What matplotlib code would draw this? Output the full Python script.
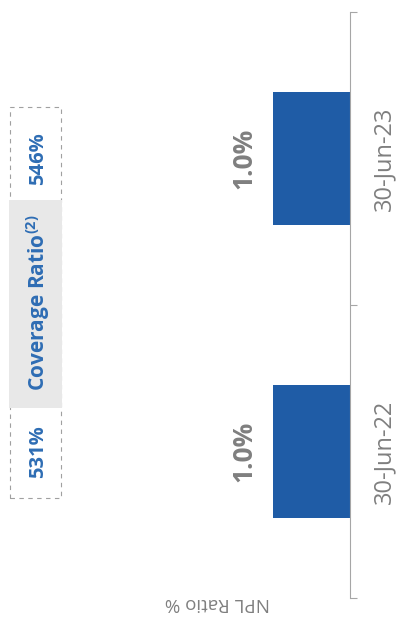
import matplotlib.pyplot as plt
from matplotlib.patches import Rectangle

plt.rcParams['font.family'] = ['Open Sans', 'DejaVu Sans']
plt.rcParams['mathtext.fontset'] = 'custom'
plt.rcParams['mathtext.rm'] = 'Open Sans:bold'

# NPL ratio per reporting date
periods = ['30-Jun-22', '30-Jun-23']
npl_ratio = [1.0, 1.0]
coverage = [531, 546]

W, H = 398, 619
fig = plt.figure(figsize=(W / 100, H / 100), dpi=100)

def fx(px):
    return px / W

def fy(py):
    return 1 - py / H

ax = fig.add_axes([fx(230), fy(598), fx(350) - fx(230), fy(12) - fy(598)])
pos = list(range(len(periods)))
ax.barh(pos, npl_ratio, height=0.455, color='#1F5CA6')
ax.set_xlim(1.56, 0)
ax.set_ylim(-0.5, len(periods) - 0.5)

for s in ['left', 'top', 'bottom']:
    ax.spines[s].set_visible(False)
ax.spines['right'].set_color('#A6A6A6')
ax.yaxis.tick_right()
ax.set_yticks([p - 0.5 for p in pos] + [pos[-1] + 0.5])
ax.set_yticklabels([])
ax.tick_params(axis='y', length=5, color='#A6A6A6', direction='out')
ax.set_xticks([])

# value labels at the bar ends
for p, v in zip(pos, npl_ratio):
    ax.annotate(f'{v:.1f}%', xy=(v, p), xytext=(-21, 0), textcoords='offset points',
                rotation=90, ha='center', va='center', fontsize=19,
                fontweight='bold', color='#7F7F7F')

# category labels right of the axis
ytr = ax.get_yaxis_transform()
for p, lab in zip(pos, periods):
    ax.text(1.29, p, lab, transform=ytr, rotation=90, ha='center', va='center',
            fontsize=17, color='#7F7F7F')

fig.text(fx(217), fy(603), 'NPL Ratio %', rotation=180, ha='center', va='center',
         fontsize=13.5, color='#7F7F7F')

# coverage ratio strip
fig.patches.append(Rectangle((fx(10), fy(498)), fx(61) - fx(10), fy(107) - fy(498),
                             transform=fig.transFigure, fill=False,
                             edgecolor='#A0A0A0', linestyle=(0, (4, 4)), linewidth=0.8))
fig.patches.append(Rectangle((fx(9), fy(408)), fx(62) - fx(9), fy(200) - fy(408),
                             transform=fig.transFigure, facecolor='#E8E8E8',
                             edgecolor='none'))
for p, c in zip(pos, coverage):
    ax.text((38 - 230) / 120, p, f'{c}%', transform=ytr, rotation=90,
            ha='center', va='center', fontsize=14.5, fontweight='bold', color='#2E6DB4')
fig.text(fx(38), fy(303), 'Coverage Ratio$^{(2)}$', rotation=90, ha='center',
         va='center', fontsize=15, fontweight='bold', color='#2E6DB4')

fig.savefig('out.png', dpi=100)
